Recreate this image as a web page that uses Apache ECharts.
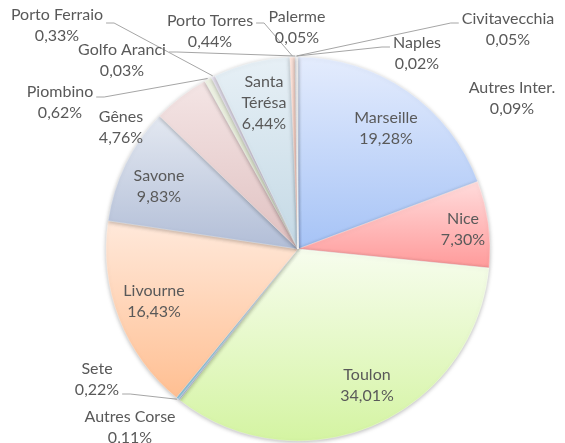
<!DOCTYPE html>
<html>
<head>
<meta charset="utf-8">
<script src="https://cdn.jsdelivr.net/npm/echarts@6/dist/echarts.min.js"></script>
<style>
html,body{margin:0;padding:0;background:#fff;}
#chart{width:565px;height:443px;}
</style>
</head>
<body>
<div id="chart"></div>
<script>
// Data (percent shares)
const categories = ['Marseille','Nice','Toulon','Autres Corse','Sete','Livourne','Savone','Gênes','Piombino','Porto Ferraio','Santa Térésa','Porto Torres','Golfo Aranci','Palerme','Civitavecchia','Naples','Autres Inter.'];
const values = [19.28, 7.30, 34.01, 0.11, 0.22, 16.43, 9.83, 4.76, 0.62, 0.33, 6.44, 0.44, 0.03, 0.05, 0.05, 0.02, 0.09];

// Styles
const gradients = [
  ['#e4ecfd','#a6c3f6'],
  ['#ffdcdc','#ff9a9a'],
  ['#f7fdee','#d4f4a2'],
  ['#c9d2f2','#b3c3ee'],
  ['#c3e7f6','#9ed6ef'],
  ['#ffe9db','#ffbf92'],
  ['#e3e8f1','#b2bed7'],
  ['#f4e5e5','#e0c1c1'],
  ['#eff3e5','#d9e3c6'],
  ['#e8e3f0','#d2cae2'],
  ['#e7f0f6','#c4d9e5'],
  ['#ffe5dc','#fac6b8'],
  ['#e2e6ee','#cbd2de'],
  ['#e2e6ee','#cbd2de'],
  ['#e6e6e6','#d0d0d0'],
  ['#e2e6ee','#cbd2de'],
  ['#e6e6e6','#d0d0d0']
];

const CX = 298, CY = 249, R = 192;

// Label placement (block centre) and optional leader line
const labelPos = {
  'Marseille':    {x:386, y:128},
  'Nice':         {x:463, y:229},
  'Toulon':       {x:367, y:385},
  'Autres Corse': {x:130, y:427},
  'Sete':         {x:97,  y:379, line:{side:'right', dy:15}},
  'Livourne':     {x:154, y:301},
  'Savone':       {x:159, y:186},
  'Gênes':        {x:121, y:127},
  'Piombino':     {x:60,  y:102, line:{side:'right', dy:-5}},
  'Porto Ferraio':{x:57,  y:25,  line:{side:'right', dy:-2}},
  'Santa Térésa': {x:264, y:103, wrap:true},
  'Porto Torres': {x:210, y:31,  line:{side:'right', dy:-8}},
  'Golfo Aranci': {x:122, y:60,  line:{side:'right', dy:-8}},
  'Palerme':      {x:297, y:27},
  'Civitavecchia':{x:508, y:29,  line:{side:'left', dy:-6}},
  'Naples':       {x:417, y:53,  line:{side:'left', dy:-6}},
  'Autres Inter.':{x:512, y:98}
};

const total = values.reduce((a,b)=>a+b,0);
const cum = [];
values.reduce((acc,v,i)=>{cum[i]=acc; return acc+v;},0);

const seriesData = categories.map((name,i)=>{
  const hasLine = !!labelPos[name].line;
  return {
    name: name,
    value: values[i],
    itemStyle: {
      color: new echarts.graphic.LinearGradient(0,0,0,1,[
        {offset:0,color:gradients[i][0]},
        {offset:1,color:gradients[i][1]}
      ])
    },
    label: {position: hasLine ? 'outside' : 'inside'},
    labelLine: {show: hasLine}
  };
});

const chart = echarts.init(document.getElementById('chart'), null, {renderer:'canvas'});
chart.setOption({
  backgroundColor:'#ffffff',
  animation:false,
  series:[{
    type:'pie',
    center:[CX, CY],
    radius:R,
    startAngle:90,
    clockwise:true,
    avoidLabelOverlap:false,
    data: seriesData,
    itemStyle:{
      borderColor:'rgba(255,255,255,0.6)',
      borderWidth:0.5,
      shadowBlur:4,
      shadowColor:'rgba(0,0,0,0.28)',
      shadowOffsetY:1
    },
    label:{
      show:true,
      color:'#595959',
      fontFamily:'Lato',
      fontSize:16,
      lineHeight:21,
      align:'center',
      textBorderWidth:0,
      formatter: p => {
        const nm = labelPos[p.name].wrap ? p.name.replace(' ', '\n') : p.name;
        return nm + '\n' + p.value.toFixed(2).replace('.', ',') + '%';
      }
    },
    labelLine:{
      show:false,
      lineStyle:{color:'#a6a6a6', width:1}
    },
    emphasis:{disabled:true},
    labelLayout: function(p){
      const i = p.dataIndex;
      const lp = labelPos[categories[i]];
      const res = {x: lp.x, y: lp.y, align:'center', verticalAlign:'middle'};
      if (lp.line) {
        const a = (cum[i] + values[i]/2) / total * 2 * Math.PI;
        const ex = CX + (R+1) * Math.sin(a);
        const ey = CY - (R+1) * Math.cos(a);
        const w = p.labelRect.width;
        const right = lp.line.side === 'right';
        const ax = right ? lp.x + w/2 + 3 : lp.x - w/2 - 3;
        const ay = lp.y + lp.line.dy;
        const bx = ax + (right ? 8 : -8);
        res.labelLinePoints = [[ex,ey],[bx,ay],[ax,ay]];
      }
      return res;
    }
  }]
});
</script>
</body>
</html>
